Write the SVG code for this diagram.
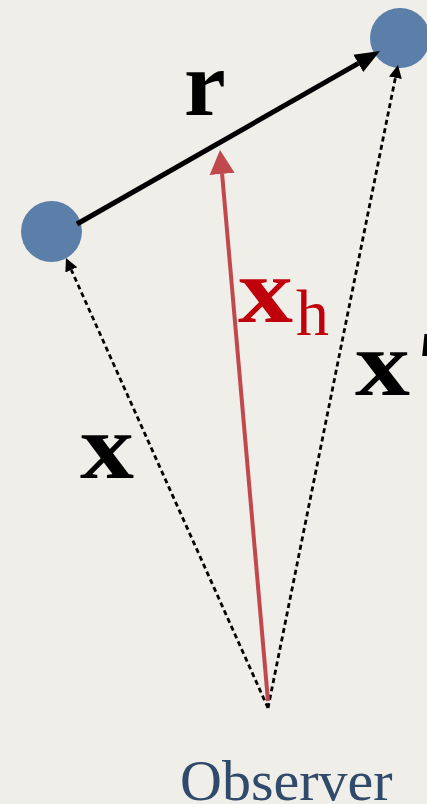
<svg xmlns="http://www.w3.org/2000/svg" width="427" height="804" viewBox="0 0 427 804">
<defs>
<style>
.node{fill:#5b7fa8}
.bold{font-family:"Liberation Serif","Times New Roman",serif;font-weight:bold;font-size:94px;fill:#000}
.dot{stroke:#000;stroke-width:2.8;stroke-dasharray:5 3.5;fill:none}
</style>
<marker id="ahBlack" markerUnits="userSpaceOnUse" markerWidth="30" markerHeight="24" viewBox="0 -12 30 24" refX="0" refY="0" orient="auto"><path d="M0,-10 L25,0 L0,10 z" fill="#000"/></marker>
<marker id="ahRed" markerUnits="userSpaceOnUse" markerWidth="30" markerHeight="30" viewBox="0 -15 30 30" refX="0" refY="0" orient="auto"><path d="M0,-12.5 L24,0 L0,12.5 z" fill="#c1494e"/></marker>
<marker id="ahDot" markerUnits="userSpaceOnUse" markerWidth="16" markerHeight="16" viewBox="0 -8 16 16" refX="0" refY="0" orient="auto"><path d="M0,-6.5 L13,0 L0,6.5 z" fill="#000"/></marker>
</defs>
<rect width="427" height="804" fill="#f0eee9"/>
<g id="node-a"><circle class="node" cx="51.5" cy="231.5" r="30.5"/></g>
<g id="node-b"><circle class="node" cx="400" cy="38" r="30"/></g>
<g id="connectors">
<line x1="77" y1="224" x2="358.3" y2="63.4" stroke="#000" stroke-width="5" marker-end="url(#ahBlack)"/>
<line class="dot" x1="268" y1="708" x2="71.3" y2="269.9" marker-end="url(#ahDot)"/>
<line class="dot" x1="268" y1="708" x2="395.4" y2="77.7" marker-end="url(#ahDot)"/>
<line x1="268" y1="701" x2="222.1" y2="173.9" stroke="#c1494e" stroke-width="4" marker-end="url(#ahRed)"/>
</g>
<g id="labels">
<text class="bold" x="184" y="115">r</text>
<text class="bold" x="80" y="478" textLength="54" lengthAdjust="spacingAndGlyphs">x</text>
<text class="bold" x="238" y="322" style="fill:#c0000b" textLength="55" lengthAdjust="spacingAndGlyphs">x</text>
<text x="296" y="335" font-family="'Liberation Serif','Times New Roman',serif" font-size="66" fill="#c0000b">h</text>
<text class="bold" x="355" y="395"><tspan textLength="55" lengthAdjust="spacingAndGlyphs">x</tspan><tspan dx="6">′</tspan></text>
<text x="180" y="800" font-family="'Liberation Serif','Times New Roman',serif" font-size="58" fill="#2f4a6b">Observer</text>
</g>
</svg>
